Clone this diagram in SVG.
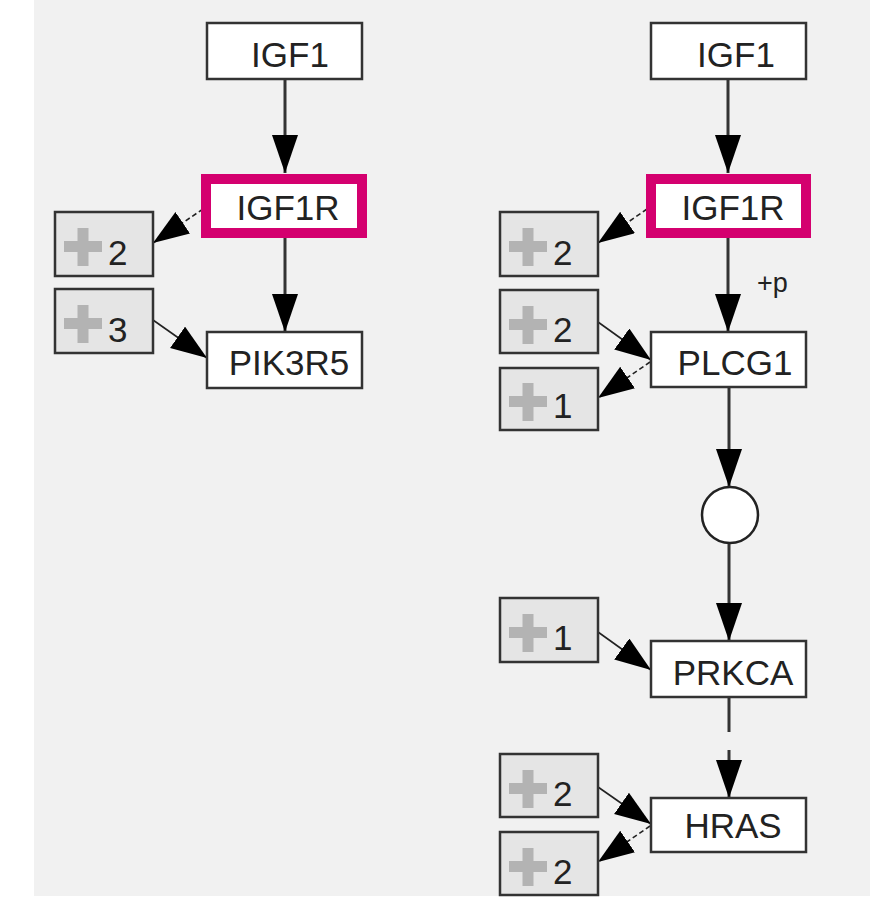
<svg xmlns="http://www.w3.org/2000/svg" width="870" height="900" viewBox="0 0 870 900">
<defs>
<style>
.gene rect{fill:#fff;stroke:#333;stroke-width:2.5}
.sel rect{fill:#fff;stroke:#d4006f;stroke-width:10}
.lbl{font-family:"Liberation Sans",Arial,sans-serif;font-size:35px;fill:#222;text-anchor:middle}
.cnt rect.b{fill:#e5e5e5;stroke:#333;stroke-width:2.5}
.cnt rect.p{fill:#b3b3b3;stroke:none}
.num{font-family:"Liberation Sans",Arial,sans-serif;font-size:35px;fill:#222}
.small{font-family:"Liberation Sans",Arial,sans-serif;font-size:27px;fill:#222}
.v{stroke:#333;stroke-width:3;fill:none}
.d{stroke:#222;stroke-width:1.6;fill:none}
.dd{stroke:#222;stroke-width:1.6;fill:none;stroke-dasharray:5 3}
</style>
<marker id="big" markerUnits="userSpaceOnUse" markerWidth="40" markerHeight="28" refX="38" refY="13" orient="auto" viewBox="0 0 40 28">
<path d="M0,0 L38,13 L0,26 z" fill="#000"/>
</marker>
<marker id="sm" markerUnits="userSpaceOnUse" markerWidth="38" markerHeight="28" refX="36" refY="13" orient="auto" viewBox="0 0 38 28">
<path d="M0,0 L36,13 L0,26 z" fill="#000"/>
</marker>
</defs>
<rect x="0" y="0" width="870" height="900" fill="#fff"/>
<rect x="34" y="0" width="836" height="896" fill="#f1f1f1"/>

<g id="connectors">
<line class="v" x1="285" y1="79" x2="285" y2="173" marker-end="url(#big)"/>
<line class="v" x1="285" y1="237" x2="285" y2="332" marker-end="url(#big)"/>
<line class="dd" x1="203" y1="209" x2="153" y2="243" marker-end="url(#sm)"/>
<line class="d" x1="153" y1="320" x2="207" y2="358" marker-end="url(#sm)"/>

<line class="v" x1="728" y1="79" x2="728" y2="173" marker-end="url(#big)"/>
<line class="v" x1="728" y1="237" x2="728" y2="332" marker-end="url(#big)"/>
<line class="dd" x1="647" y1="209" x2="598" y2="243" marker-end="url(#sm)"/>
<line class="d" x1="598" y1="322" x2="651" y2="360" marker-end="url(#sm)"/>
<line class="dd" x1="650" y1="362" x2="598" y2="398" marker-end="url(#sm)"/>
<line class="v" x1="729" y1="387" x2="729" y2="487" marker-end="url(#big)"/>
<line class="v" x1="729" y1="543" x2="729" y2="641" marker-end="url(#big)"/>
<line class="d" x1="598" y1="632" x2="651" y2="670" marker-end="url(#sm)"/>
<line class="v" x1="729" y1="697" x2="729" y2="732"/>
<line class="v" x1="729" y1="750" x2="729" y2="798" marker-end="url(#big)"/>
<line class="d" x1="598" y1="787" x2="651" y2="824" marker-end="url(#sm)"/>
<line class="dd" x1="650" y1="826" x2="598" y2="862" marker-end="url(#sm)"/>
<text class="small" x="757" y="292">+p</text>
</g>

<g id="igf1-left" class="gene"><rect x="207" y="23" width="155" height="56"/><text class="lbl" x="290" y="67">IGF1</text></g>
<g id="igf1r-left" class="sel"><rect x="206" y="179" width="156" height="54"/><text class="lbl" x="288" y="220">IGF1R</text></g>
<g id="pik3r5" class="gene"><rect x="207" y="332" width="155" height="56"/><text class="lbl" x="289" y="375">PIK3R5</text></g>
<g id="grp-left-2" class="cnt"><rect class="b" x="55" y="212" width="98" height="64"/><rect class="p" x="64" y="241" width="38" height="11"/><rect class="p" x="77.5" y="228" width="11" height="38"/><text class="num" x="108" y="265">2</text></g>
<g id="grp-left-3" class="cnt"><rect class="b" x="55" y="289" width="98" height="64"/><rect class="p" x="64" y="318" width="38" height="11"/><rect class="p" x="77.5" y="305" width="11" height="38"/><text class="num" x="108" y="342">3</text></g>

<g id="igf1-right" class="gene"><rect x="651" y="23" width="155" height="56"/><text class="lbl" x="736" y="67">IGF1</text></g>
<g id="igf1r-right" class="sel"><rect x="651" y="179" width="155" height="54"/><text class="lbl" x="733" y="220">IGF1R</text></g>
<g id="plcg1" class="gene"><rect x="651" y="332" width="155" height="55"/><text class="lbl" x="735" y="375">PLCG1</text></g>
<g id="compound"><circle cx="730" cy="515" r="28" fill="#fff" stroke="#222" stroke-width="2.5"/></g>
<g id="prkca" class="gene"><rect x="651" y="641" width="155" height="56"/><text class="lbl" x="733" y="685">PRKCA</text></g>
<g id="hras" class="gene"><rect x="651" y="798" width="155" height="54"/><text class="lbl" x="733" y="838">HRAS</text></g>

<g id="grp-r-2a" class="cnt"><rect class="b" x="500" y="212" width="98" height="64"/><rect class="p" x="509" y="241" width="38" height="11"/><rect class="p" x="522.5" y="228" width="11" height="38"/><text class="num" x="553" y="265">2</text></g>
<g id="grp-r-2b" class="cnt"><rect class="b" x="500" y="290" width="98" height="63"/><rect class="p" x="509" y="319" width="38" height="11"/><rect class="p" x="522.5" y="306" width="11" height="38"/><text class="num" x="553" y="342">2</text></g>
<g id="grp-r-1a" class="cnt"><rect class="b" x="500" y="368" width="98" height="62"/><rect class="p" x="509" y="396" width="38" height="11"/><rect class="p" x="522.5" y="383" width="11" height="38"/><text class="num" x="553" y="418">1</text></g>
<g id="grp-r-1b" class="cnt"><rect class="b" x="500" y="598" width="98" height="64"/><rect class="p" x="509" y="627" width="38" height="11"/><rect class="p" x="522.5" y="614" width="11" height="38"/><text class="num" x="553" y="650">1</text></g>
<g id="grp-r-2c" class="cnt"><rect class="b" x="500" y="754" width="98" height="63"/><rect class="p" x="509" y="783" width="38" height="11"/><rect class="p" x="522.5" y="770" width="11" height="38"/><text class="num" x="553" y="806">2</text></g>
<g id="grp-r-2d" class="cnt"><rect class="b" x="500" y="832" width="98" height="63"/><rect class="p" x="509" y="861" width="38" height="11"/><rect class="p" x="522.5" y="848" width="11" height="38"/><text class="num" x="553" y="884">2</text></g>
</svg>
